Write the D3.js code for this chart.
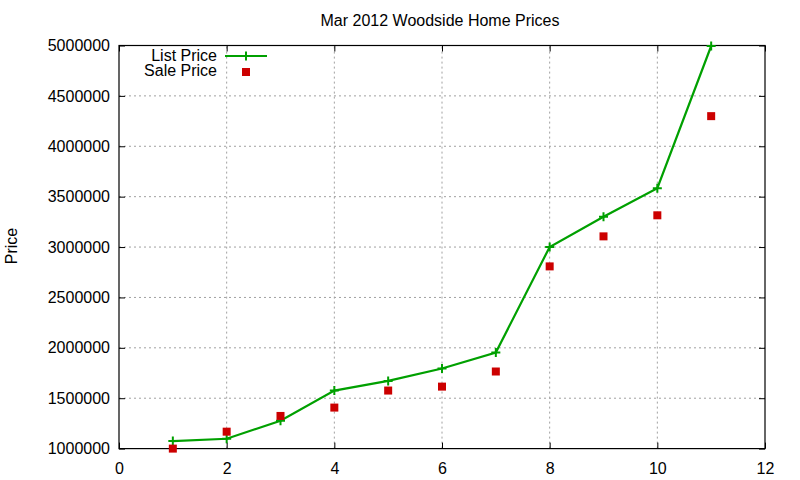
<!DOCTYPE html>
<html><head><meta charset="utf-8">
<script src="https://cdn.jsdelivr.net/npm/d3@7"></script>
<style>
body{margin:0;background:#fff;}
text{font-family:"Liberation Sans",Arial,sans-serif;font-size:16px;fill:#000;}
</style></head>
<body><svg id="c" width="800" height="480"></svg>
<script>
const months = [1,2,3,4,5,6,7,8,9,10,11];
const listPrice = [1075000,1098000,1277000,1576000,1672000,1795000,1953000,3001000,3300000,3584000,4995000];
const salePrice = [1000000,1168000,1324000,1407000,1576000,1615000,1765000,2808000,3106000,3315000,4299000];
const xTicks = [0,2,4,6,8,10,12];
const yTicks = [1000000,1500000,2000000,2500000,3000000,3500000,4000000,4500000,5000000];
const title = "Mar 2012 Woodside Home Prices";
const yLabel = "Price";
const seriesNames = ["List Price","Sale Price"];

const svg = d3.select("#c");
const L=119, R=765, T=45.5, B=448.6;
const x = d3.scaleLinear().domain([0,12]).range([L,R]);
const y = d3.scaleLinear().domain([1000000,5000000]).range([B,T]);

// grid
const g = svg.append("g");
g.selectAll("line.gx").data(xTicks.filter(d=>d>0&&d<12)).enter().append("line")
 .attr("x1",d=>x(d)).attr("x2",d=>x(d)).attr("y1",B).attr("y2",T)
 .attr("stroke","#a0a0a0").attr("stroke-width",1).attr("stroke-dasharray","2,3");
g.selectAll("line.gy").data(yTicks.filter(d=>d>1000000&&d<5000000)).enter().append("line")
 .attr("x1",L).attr("x2",R).attr("y1",d=>y(d)).attr("y2",d=>y(d))
 .attr("stroke","#a0a0a0").attr("stroke-width",1).attr("stroke-dasharray","2,3");

// axes with mirrored inward ticks
const tk=6;
const ax = svg.append("g");
ax.append("g").attr("transform",`translate(0,${B})`)
 .call(d3.axisBottom(x).tickValues(xTicks).tickSize(-tk).tickPadding(tk+8).tickFormat(d3.format("d")));
ax.append("g").attr("transform",`translate(0,${T})`)
 .call(d3.axisTop(x).tickValues(xTicks).tickSize(-tk).tickFormat(""));
ax.append("g").attr("transform",`translate(${L},0)`)
 .call(d3.axisLeft(y).tickValues(yTicks).tickSize(-tk).tickPadding(tk+3).tickFormat(d3.format("d")));
ax.append("g").attr("transform",`translate(${R},0)`)
 .call(d3.axisRight(y).tickValues(yTicks).tickSize(-tk).tickFormat(""));
ax.selectAll(".domain").remove();
ax.selectAll(".tick line").attr("stroke","#000");
ax.selectAll("g").attr("font-family",null).attr("font-size",null);
ax.selectAll("g.tick text").attr("fill","#000");
svg.append("rect").attr("x",L).attr("y",T).attr("width",R-L).attr("height",B-T)
 .attr("fill","none").attr("stroke","#000").attr("stroke-width",1.2);

// list price line
const green="#00a000", red="#cc0000";
const line = d3.line().x((d,i)=>x(months[i])).y(d=>y(d));
svg.append("path").datum(listPrice).attr("d",line).attr("fill","none")
 .attr("stroke",green).attr("stroke-width",2.2);
const plus = (sel,cx,cy)=>{
  sel.append("path").attr("d",`M${cx-4.5},${cy}H${cx+4.5}M${cx},${cy-4.5}V${cy+4.5}`)
   .attr("stroke",green).attr("stroke-width",2);
};
const pg = svg.append("g");
listPrice.forEach((v,i)=>plus(pg,x(months[i]),y(v)));

// sale price squares
svg.append("g").selectAll("rect").data(salePrice).enter().append("rect")
 .attr("x",(d,i)=>x(months[i])-4).attr("y",d=>y(d)-4).attr("width",8).attr("height",8)
 .attr("fill",red);

// title & ylabel
svg.append("text").attr("x",440).attr("y",26).attr("text-anchor","middle").text(title);
svg.append("text").attr("transform","translate(17,246) rotate(-90)").attr("text-anchor","middle").text(yLabel);

// legend
const lg = svg.append("g");
lg.append("text").attr("x",217).attr("y",61).attr("text-anchor","end").text(seriesNames[0]);
lg.append("line").attr("x1",225).attr("x2",267).attr("y1",56).attr("y2",56).attr("stroke",green).attr("stroke-width",2.2);
plus(lg,246,56);
lg.append("text").attr("x",217).attr("y",76).attr("text-anchor","end").text(seriesNames[1]);
lg.append("rect").attr("x",242).attr("y",68).attr("width",8).attr("height",8).attr("fill",red);
</script></body></html>
